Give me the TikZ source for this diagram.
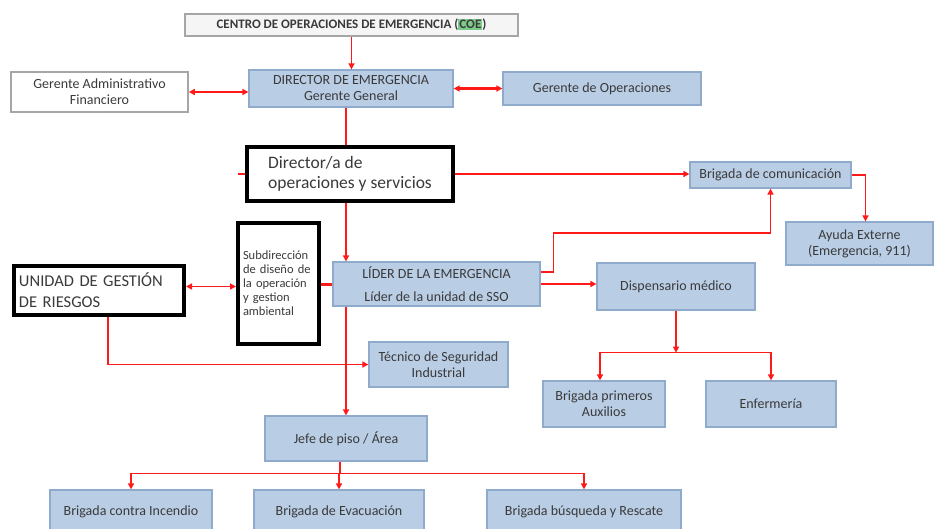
\documentclass[tikz,border=0pt]{standalone}
\usepackage{fontspec}
\setmainfont{Carlito}
\usetikzlibrary{arrows.meta}
\definecolor{cajaazul}{HTML}{B9CDE5}
\definecolor{bordeazul}{HTML}{8FAACB}
\definecolor{textogris}{HTML}{3A3A3A}
\definecolor{rojo}{HTML}{FF1A1A}
\definecolor{verdecoe}{HTML}{7CCB8A}
\begin{document}
\begin{tikzpicture}[x=1pt,y=-1pt,
  caja/.style={draw=bordeazul,fill=cajaazul,line width=1.2pt,text=textogris,align=center,
    font=\fontsize{14}{16}\selectfont,inner sep=0pt},
  cajablanca/.style={caja,draw=gray!70,fill=white,line width=1.6pt},
  cajanegra/.style={draw=black,fill=white,line width=4pt,text=textogris,align=left,inner sep=0pt},
  linea/.style={draw=rojo,line width=1.5pt},
  flecha/.style={linea,-{Triangle[length=6pt,width=6pt]}},
  dobleflecha/.style={linea,{Triangle[length=6pt,width=6pt]}-{Triangle[length=6pt,width=6pt]}},
]
\useasboundingbox[fill=white] (0,0) rectangle (934,528);

\node[cajablanca,fill=gray!8,line width=1.2pt,minimum width=333,minimum height=22,font=\fontsize{13}{15}\selectfont\bfseries] (coe) at (351.5,25) {CENTRO DE OPERACIONES DE EMERGENCIA ({\setlength{\fboxsep}{1pt}\colorbox{verdecoe}{COE}})};
\node[caja,minimum width=204,minimum height=37] (director) at (351,88.5) {DIRECTOR DE EMERGENCIA\\Gerente General};
\node[cajablanca,minimum width=177,minimum height=40] (gadmin) at (99.5,92) {Gerente Administrativo\\Financiero};
\node[caja,minimum width=198,minimum height=33] (gop) at (602,88.5) {Gerente de Operaciones};
\node[cajanegra,minimum width=206,minimum height=54,font=\fontsize{17.5}{20}\selectfont] (diroper) at (350,174) {Director/a de\\operaciones y servicios};
\node[caja,minimum width=161,minimum height=26] (brigcom) at (770.5,175) {Brigada de comunicación};
\node[caja,minimum width=147,minimum height=43] (ayuda) at (859.5,243.5) {Ayuda Externe\\(Emergencia, 911)};
\node[cajanegra,minimum width=81,minimum height=121,text width=71,font=\fontsize{12.5}{14}\selectfont] (subdir) at (278.5,283.5) {Subdirección\\de diseño de\\la operación\\y gestion\\ambiental};
\node[cajanegra,minimum width=170,minimum height=49,text width=160,font=\fontsize{16.5}{21}\selectfont] (unidad) at (99,290.5) {UNIDAD DE GESTIÓN\\DE RIESGOS};
\node[caja,minimum width=207,minimum height=44] (lider) at (436.5,284) {LÍDER DE LA EMERGENCIA\\[7pt]Líder de la unidad de SSO};
\node[caja,minimum width=158,minimum height=47] (dispensario) at (676,286.5) {Dispensario médico};
\node[caja,minimum width=139,minimum height=45] (tecnico) at (438.5,364.5) {Técnico de Seguridad\\Industrial};
\node[caja,minimum width=122,minimum height=46] (primeros) at (604,404) {Brigada primeros\\Auxilios};
\node[caja,minimum width=130,minimum height=46] (enfermeria) at (771,404) {Enfermería};
\node[caja,minimum width=162,minimum height=45] (jefe) at (346,438.5) {Jefe de piso / Área};
\node[caja,minimum width=162,minimum height=44] (incendio) at (131,512) {Brigada contra Incendio};
\node[caja,minimum width=170,minimum height=44] (evacuacion) at (339,512) {Brigada de Evacuación};
\node[caja,minimum width=194,minimum height=44] (busqueda) at (584,512) {Brigada búsqueda y Rescate};

\path[flecha] (coe.south) -- (coe.south |- director.north);
\path[dobleflecha] (gadmin.east) -- (gadmin.east -| director.west);
\path[dobleflecha,line width=2.5pt] (director.east) -- (gop.west);
\path[linea] ([xshift=-5pt]director.south) -- ([xshift=-5pt]director.south |- diroper.north);
\path[flecha] ([xshift=-4pt]diroper.south) -- ([xshift=-4pt]diroper.south |- lider.north);
\path[linea] (diroper.west) -- ++(-7,0);
\path[flecha,line width=2.5pt] (diroper.east) -- (diroper.east -| brigcom.west);
\path[flecha] (brigcom.east) -| ([xshift=6pt]ayuda.north);
\path[flecha] ([yshift=12pt]lider.east) -- ++(13,0) -- ++(0,-39) -| (brigcom.south);
\path[flecha] (lider.east) -- (lider.east -| dispensario.west);
\path[flecha] (dispensario.south) -- ++(0,42) coordinate (dsplit);
\path[flecha] (dsplit) -| ([xshift=-4pt]primeros.north);
\path[flecha] (dsplit) -| (enfermeria.north);
\path[dobleflecha] ([yshift=4pt]unidad.east) -- ([yshift=4pt]unidad.east -| subdir.west);
\path[linea,line width=3pt] (subdir.east |- lider.west) -- (lider.west);
\path[flecha] ([xshift=9pt]unidad.south) |- (tecnico.west);
\path[flecha] (jefe.north |- lider.south) -- (jefe.north);
\path[linea] ([xshift=-6pt]jefe.south) -- ++(0,12) coordinate (jsplit);
\path[flecha] (jsplit) -| (incendio.north);
\path[flecha] (jsplit) -| (evacuacion.north);
\path[flecha] (jsplit) -| (busqueda.north);
\end{tikzpicture}
\end{document}
